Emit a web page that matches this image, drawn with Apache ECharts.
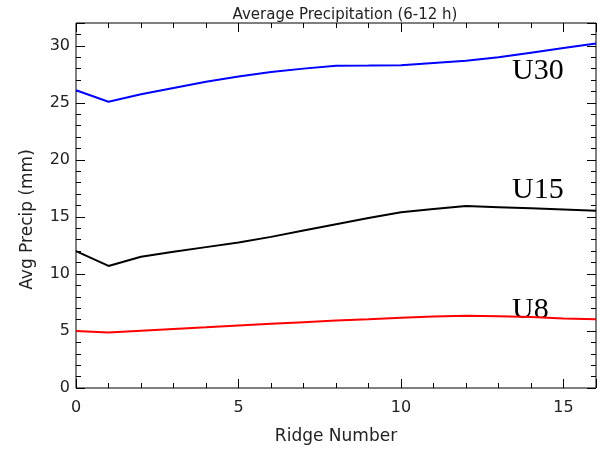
<!DOCTYPE html>
<html>
<head>
<meta charset="utf-8">
<script src="https://cdn.jsdelivr.net/npm/echarts@6/dist/echarts.min.js"></script>
<style>
  html, body { margin: 0; padding: 0; background: #fff; }
  #chart { width: 601px; height: 450px; }
</style>
</head>
<body>
<div id="chart"></div>
<script>
// ridge numbers along the x axis
var ridge = [0, 1, 2, 3, 4, 5, 6, 7, 8, 9, 10, 11, 12, 13, 14, 15, 16];
// average precipitation (mm) per wind speed run
var u30 = [26.1, 25.1, 25.75, 26.3, 26.85, 27.3, 27.7, 28.0, 28.25, 28.27, 28.3, 28.5, 28.7, 29.0, 29.4, 29.8, 30.2];
var u15 = [12.0, 10.7, 11.5, 11.95, 12.35, 12.75, 13.25, 13.8, 14.35, 14.9, 15.4, 15.7, 15.95, 15.85, 15.75, 15.65, 15.55];
var u8 = [5.0, 4.86, 5.02, 5.18, 5.33, 5.49, 5.63, 5.77, 5.91, 6.03, 6.16, 6.26, 6.33, 6.3, 6.22, 6.1, 6.03];
var seriesNames = ['U30', 'U15', 'U8'];
var seriesColors = ['#0000ff', '#000000', '#ff0000'];
var xRange = [0, 16];
var yRange = [0, 32];

function pairs(vals) {
    return ridge.map(function (r, i) { return [r, vals[i]]; });
}

var myChart = echarts.init(document.getElementById('chart'));

var axisFont = { fontFamily: 'DejaVu Sans', fontSize: 16, color: '#222' };

// major axes carry labels and long ticks, minor axes only short ticks
function xAx(pos, major) {
    return {
        type: 'value', position: pos, min: xRange[0], max: xRange[1],
        interval: major ? 5 : 1,
        axisLine: { show: false, onZero: false },
        splitLine: { show: false },
        axisTick: { show: true, inside: true, length: major ? 9 : 5, lineStyle: { color: '#000', width: 1 } },
        axisLabel: {
            show: major && pos === 'bottom', margin: 12,
            fontFamily: axisFont.fontFamily, fontSize: axisFont.fontSize, color: axisFont.color,
            formatter: function (v) { return v % 5 === 0 ? String(v) : ''; }
        },
        name: (major && pos === 'bottom') ? 'Ridge Number' : '',
        nameLocation: 'middle', nameGap: 40,
        nameTextStyle: { fontFamily: 'DejaVu Sans', fontSize: 17, color: '#222' }
    };
}

function yAx(pos, major) {
    return {
        type: 'value', position: pos, min: yRange[0], max: yRange[1],
        interval: major ? 5 : 1,
        axisLine: { show: false, onZero: false },
        splitLine: { show: false },
        axisTick: { show: true, inside: true, length: major ? 9 : 5, lineStyle: { color: '#000', width: 1 } },
        axisLabel: {
            show: major && pos === 'left', margin: 6,
            fontFamily: axisFont.fontFamily, fontSize: axisFont.fontSize, color: axisFont.color,
            formatter: function (v) { return v % 5 === 0 ? String(v) : ''; }
        },
        name: (major && pos === 'left') ? 'Avg Precip (mm)' : '',
        nameLocation: 'middle', nameGap: 40,
        nameTextStyle: { fontFamily: 'DejaVu Sans', fontSize: 17, color: '#222', padding: [0, 28, 0, 0] }
    };
}

var option = {
    backgroundColor: '#fff',
    animation: false,
    title: {
        text: 'Average Precipitation (6-12 h)',
        left: 340, textAlign: 'center', top: 3,
        textStyle: { fontFamily: 'DejaVu Sans', fontSize: 15, fontWeight: 'normal', color: '#222' }
    },
    grid: {
        left: 76, right: 5, top: 23, bottom: 58,
        show: true, borderColor: '#000', borderWidth: 1, backgroundColor: 'transparent'
    },
    xAxis: [xAx('bottom', true), xAx('bottom', false), xAx('top', true), xAx('top', false)],
    yAxis: [yAx('left', true), yAx('left', false), yAx('right', true), yAx('right', false)],
    series: [u30, u15, u8].map(function (vals, i) {
        return {
            name: seriesNames[i], type: 'line', xAxisIndex: 0, yAxisIndex: 0,
            data: pairs(vals), showSymbol: false, symbol: 'none',
            lineStyle: { color: seriesColors[i], width: 2 },
            itemStyle: { color: seriesColors[i] }
        };
    }),
    graphic: [
        { type: 'text', left: 512, top: 56, style: { text: 'U30', font: '30px "Liberation Serif"', fill: '#000' } },
        { type: 'text', left: 512, top: 175, style: { text: 'U15', font: '30px "Liberation Serif"', fill: '#000' } },
        { type: 'text', left: 512, top: 295, style: { text: 'U8', font: '30px "Liberation Serif"', fill: '#000' } }
    ]
};

myChart.setOption(option);
window.addEventListener('resize', function () {
    myChart.resize();
});
</script>
</body>
</html>
